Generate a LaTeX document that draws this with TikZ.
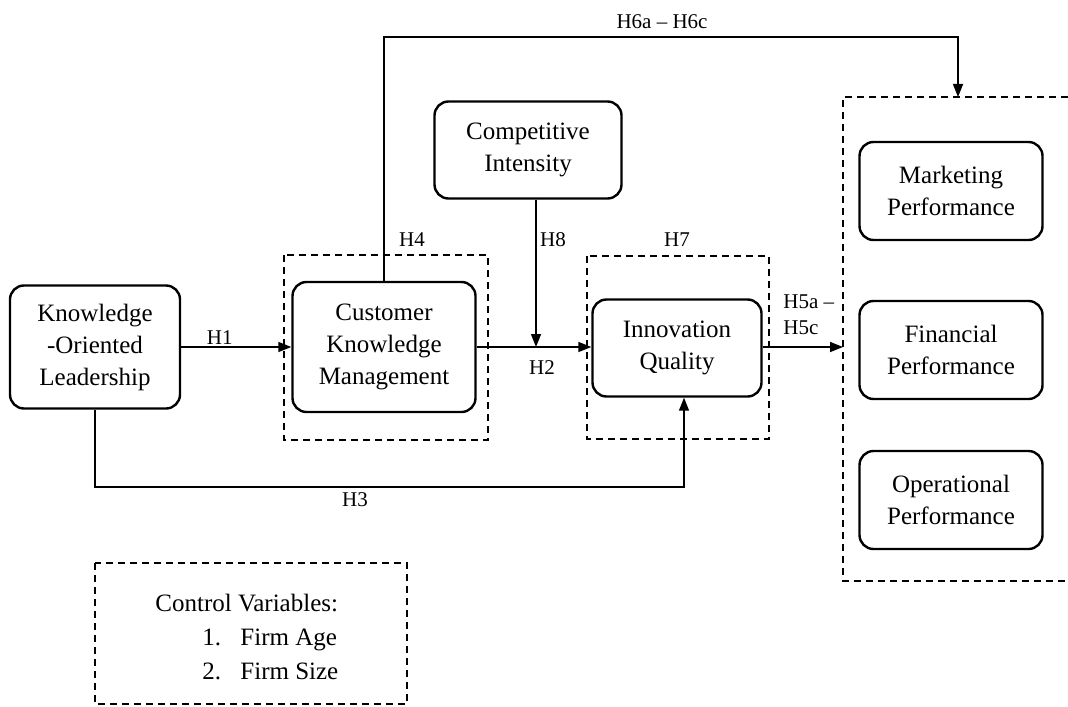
\documentclass[tikz,border=0pt]{standalone}
\usepackage{fontspec}
\setmainfont{Liberation Serif}
\usetikzlibrary{arrows.meta, positioning, calc}

\begin{document}
\begin{tikzpicture}[x=0.5pt, y=-0.5pt,
    construct/.style={draw, line width=1.2pt, rounded corners=7pt, align=center,
        font=\fontsize{12.5}{16}\selectfont, inner sep=0pt},
    link/.style={line width=0.75pt, -{Triangle[length=6.5pt, width=5pt]}},
    group/.style={line width=0.7pt, dash pattern=on 3.5pt off 2.5pt},
    hyp/.style={font=\fontsize{10.5}{13}\selectfont, inner sep=1pt}]

    \useasboundingbox (0,0) rectangle (1068,706);

    % constructs
    \node[construct, minimum width=85pt, minimum height=61.5pt] (KOL) at (95,347) {Knowledge\\-Oriented\\Leadership};
    \node[construct, minimum width=91.5pt, minimum height=65pt] (CKM) at (384,347) {Customer\\Knowledge\\Management};
    \node[construct, minimum width=93.5pt, minimum height=48.5pt] (CI) at (528,150) {Competitive\\Intensity};
    \node[construct, minimum width=84.5pt, minimum height=48.5pt] (IQ) at (677,348) {Innovation\\Quality};
    \node[construct, minimum width=91.5pt, minimum height=49pt] (MP) at (951,191) {Marketing\\Performance};
    \node[construct, minimum width=91.5pt, minimum height=49pt] (FP) at (951,350) {Financial\\Performance};
    \node[construct, minimum width=91.5pt, minimum height=49pt] (OP) at (951,500) {Operational\\Performance};

    % dashed groups
    \draw[group] (284,255) rectangle (488,440);
    \draw[group] (587,256) rectangle (769,439);
    \draw[group] (1068,97) -- (843,97) -- (843,581) -- (1068,581);
    \draw[group, line width=1pt] (95,563) rectangle (407,704);

    \coordinate (mod) at (536,347);
    \coordinate (outin) at (843,347);
    \coordinate (top) at (958,37);
    \coordinate (outtop) at (958,97);
    \coordinate (low) at (684,487);

    % paths
    \draw[link] (KOL.east) -- (CKM.west) node[hyp, above, pos=0.35] {H1};
    \draw[link] (CKM.east) -- (CKM.east -| IQ.west);
    \draw[link] (CI.south -| mod) -- (mod);
    \draw[link] (IQ.east |- mod) -- (outin);
    \draw[link] (KOL.south) |- (low) -- (low |- IQ.south);
    \draw[link] (CKM.north) |- (top) -- (outtop);

    % labels
    \node[hyp] at (662,22) {H6a -- H6c};
    \node[hyp] at (412,240) {H4};
    \node[hyp] at (553,240) {H8};
    \node[hyp] at (677,240) {H7};
    \node[hyp] at (542,368) {H2};
    \node[hyp] at (355,500) {H3};
    \node[hyp, anchor=west, align=left] at (781,315) {H5a --\\H5c};

    \node[anchor=west, align=left, inner sep=0pt, font=\fontsize{12.5}{17}\selectfont] (ctrl) at (155,637)
        {Control Variables:\\\hspace*{23.5pt}\makebox[19pt][l]{1.}Firm Age\\\hspace*{23.5pt}\makebox[19pt][l]{2.}Firm Size};
\end{tikzpicture}
\end{document}
